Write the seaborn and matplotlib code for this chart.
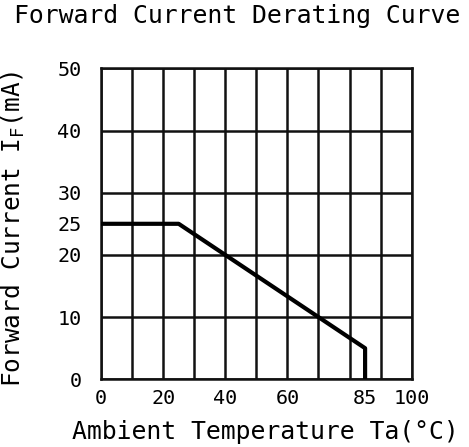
import matplotlib
matplotlib.use("Agg")
import matplotlib.pyplot as plt
import seaborn as sns
import pandas as pd

# Data
temperature = [0, 25, 85, 85]        # Ambient temperature Ta (°C)
current = [25, 25, 5, 0]             # Forward current IF (mA)
x_ticks = [0, 20, 40, 60, 85, 100]
y_ticks = [0, 10, 20, 25, 30, 40, 50]
x_grid = list(range(0, 101, 10))
y_grid = [0, 10, 20, 30, 40, 50]

title = "Forward Current Derating Curve"
x_label = "Ambient Temperature Ta(°C)"
y_label = r"Forward Current I$_\mathregular{F}$(mA)"

sns.set_theme(style="white")
plt.rcParams['font.family'] = ['DejaVu Sans Mono', 'DejaVu Sans']
plt.rcParams['mathtext.fontset'] = 'custom'
plt.rcParams['mathtext.rm'] = 'DejaVu Sans Mono'

fig = plt.figure(figsize=(4.69, 4.47), dpi=100)
ax = fig.add_axes([101 / 469, 1 - 379.3 / 447, (411.7 - 101) / 469, (379.3 - 68.3) / 447])

df = pd.DataFrame({"Ta": temperature, "IF": current})

ax.set_xlim(0, 100)
ax.set_ylim(0, 50)

for gx in x_grid:
    ax.axvline(gx, color="#111111", lw=1.8, zorder=1)
for gy in y_grid:
    ax.axhline(gy, color="#111111", lw=1.8, zorder=1)

sns.lineplot(data=df, x="Ta", y="IF", sort=False, estimator=None,
             color="black", lw=3, ax=ax, zorder=3)

ax.set_xticks(x_ticks)
ax.set_yticks(y_ticks)
ax.tick_params(axis="both", length=0, labelsize=14.5, colors="black")
ax.tick_params(axis="x", pad=7)
ax.tick_params(axis="y", pad=14)

for s in ax.spines.values():
    s.set_color("#111111")
    s.set_linewidth(1.8)

ax.set_xlabel(x_label, fontsize=17.8, color="black")
ax.set_ylabel(y_label, fontsize=17.6, color="black")
ax.xaxis.set_label_coords((265 - 101) / (411.7 - 101), -(432 - 379.3) / (379.3 - 68.3))
ax.yaxis.set_label_coords(-(101 - 13) / (411.7 - 101), (379.3 - 229) / (379.3 - 68.3))
ax.xaxis.label.set_va("center")
ax.yaxis.label.set_va("center")

fig.text(237 / 469, 1 - 16 / 447, title, ha="center", va="center", fontsize=17.8, color="black")

fig.savefig("out.png", dpi=100, facecolor="white")
